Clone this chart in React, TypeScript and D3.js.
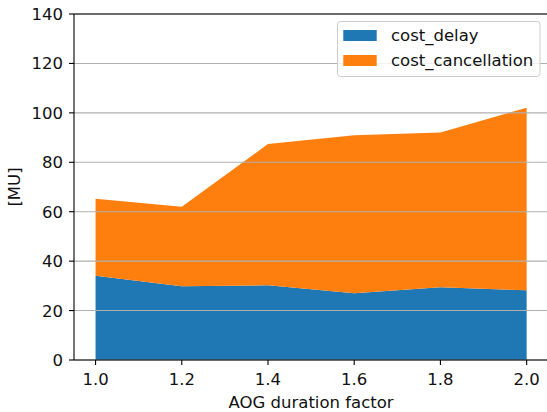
import React from "react";
import * as d3 from "d3";

const factors = [1.0, 1.2, 1.4, 1.6, 1.8, 2.0];
const costDelay = [34.1, 29.8, 30.2, 27.0, 29.4, 28.2];
const costCancellation = [31.1, 32.2, 57.2, 63.9, 62.7, 73.9];
const seriesNames = ["cost_delay", "cost_cancellation"];
const seriesColors = ["#1f77b4", "#ff7f0e"];
const xTicks = [1.0, 1.2, 1.4, 1.6, 1.8, 2.0];
const yTicks = [0, 20, 40, 60, 80, 100, 120, 140];

const W = 547;
const H = 412;
const FONT = "DejaVu Sans, sans-serif";
const FS = 16.5;
const TXT = "#111";

export default function App() {
  const left = 74;
  const right = 548.2;
  const top = 14;
  const bottom = 360;

  const x = d3.scaleLinear().domain([0.95, 2.05]).range([left, right]);
  const y = d3.scaleLinear().domain([0, 140]).range([bottom, top]);

  const rows = factors.map((f, i) => ({
    f,
    cost_delay: costDelay[i],
    cost_cancellation: costCancellation[i],
  }));
  const stack = d3.stack<any>().keys(seriesNames);
  const layers = stack(rows);
  const area = d3
    .area<any>()
    .x((d) => x(d.data.f))
    .y0((d) => y(d[0]))
    .y1((d) => y(d[1]));

  return (
    <svg
      width={W}
      height={H}
      style={{ position: "absolute", left: 0, top: 0, background: "#fff" }}
      fontFamily={FONT}
    >
      <rect x={0} y={0} width={W} height={H} fill="#fff" />
      {layers.map((layer, i) => (
        <path key={i} d={area(layer) || ""} fill={seriesColors[i]} />
      ))}
      {yTicks.map((t) => (
        <line
          key={"g" + t}
          x1={left}
          x2={right}
          y1={y(t)}
          y2={y(t)}
          stroke="#b0b0b0"
          strokeWidth={1.1}
        />
      ))}
      {/* spines */}
      <line x1={left} x2={left} y1={top} y2={bottom} stroke="#000" strokeWidth={1.1} />
      <line x1={left} x2={right} y1={bottom} y2={bottom} stroke="#000" strokeWidth={1.1} />
      <line x1={left} x2={right} y1={top} y2={top} stroke="#000" strokeWidth={1.1} />
      <line x1={right} x2={right} y1={top} y2={bottom} stroke="#000" strokeWidth={1.1} />
      {/* y ticks */}
      {yTicks.map((t) => (
        <g key={"y" + t}>
          <line x1={left - 5} x2={left} y1={y(t)} y2={y(t)} stroke="#000" strokeWidth={1.1} />
          <text x={left - 11} y={y(t) + 6} textAnchor="end" fontSize={FS} fill={TXT}>
            {t}
          </text>
        </g>
      ))}
      {/* x ticks */}
      {xTicks.map((t) => (
        <g key={"x" + t}>
          <line x1={x(t)} x2={x(t)} y1={bottom} y2={bottom + 5} stroke="#000" strokeWidth={1.1} />
          <text x={x(t)} y={385} textAnchor="middle" fontSize={FS} fill={TXT}>
            {t.toFixed(1)}
          </text>
        </g>
      ))}
      <text x={(left + right) / 2} y={408} textAnchor="middle" fontSize={FS} fill={TXT}>
        AOG duration factor
      </text>
      <text
        transform={`translate(20,${(top + bottom) / 2}) rotate(-90)`}
        textAnchor="middle"
        fontSize={FS}
        fill={TXT}
      >
        [MU]
      </text>
      {/* legend */}
      <rect
        x={337.5}
        y={21.5}
        width={202.5}
        height={55}
        rx={3}
        fill="#fff"
        fillOpacity={0.8}
        stroke="#cccccc"
        strokeWidth={1}
      />
      {seriesNames.map((n, i) => (
        <g key={n}>
          <rect x={343.3} y={30 + i * 25} width={33.4} height={11} fill={seriesColors[i]} />
          <text x={391} y={40.8 + i * 25} fontSize={FS} fill={TXT}>
            {n}
          </text>
        </g>
      ))}
    </svg>
  );
}
